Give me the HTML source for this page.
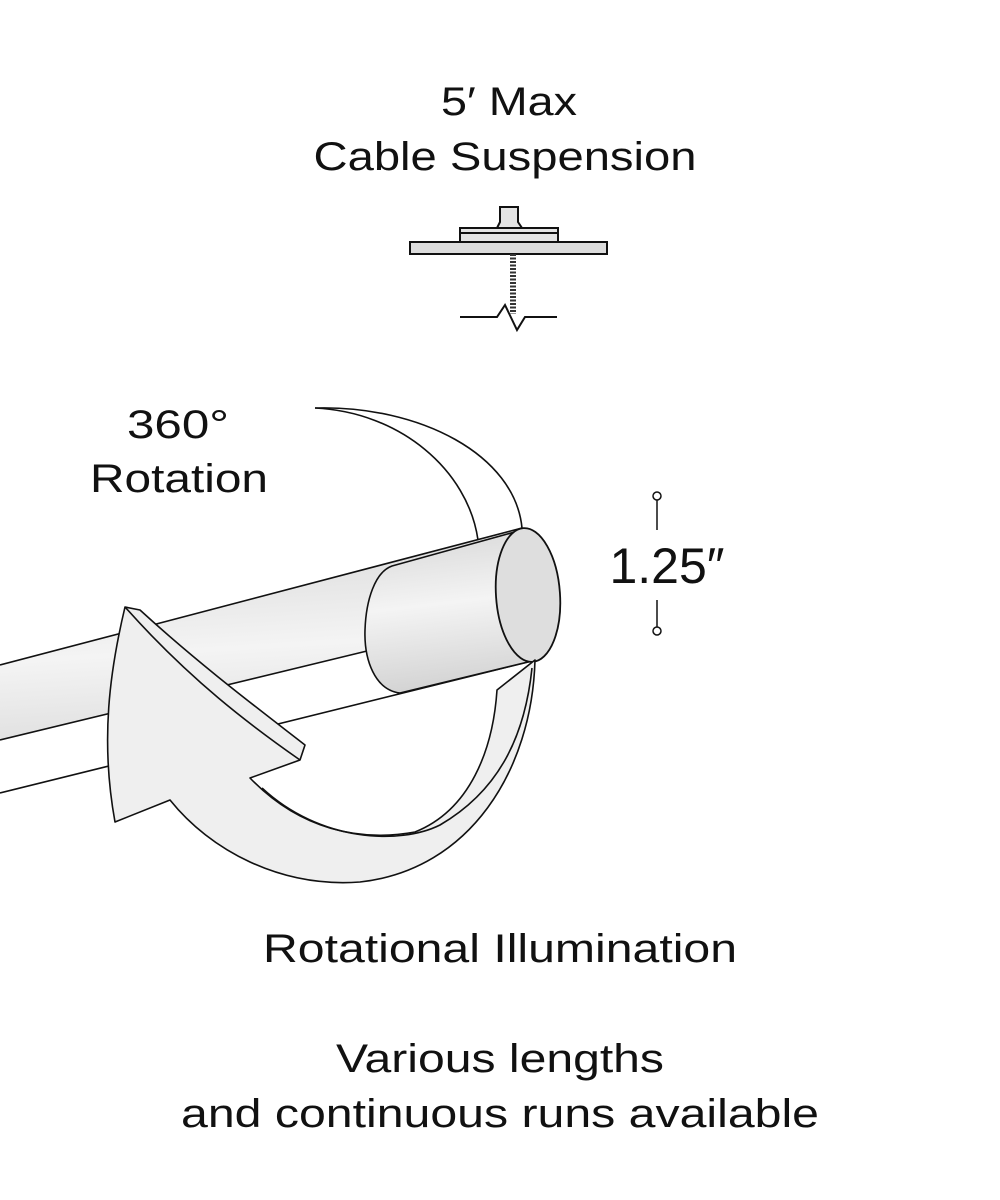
<!DOCTYPE html>
<html><head><meta charset="utf-8"><style>
html,body{margin:0;padding:0;background:#fff;}
svg{display:block;}
text{font-family:"Liberation Sans",sans-serif;fill:#111;}
</style></head><body>
<svg width="1000" height="1200" viewBox="0 0 1000 1200" xmlns="http://www.w3.org/2000/svg">
<defs>
<linearGradient id="rod" x1="0" y1="0" x2="0.12" y2="1">
<stop offset="0" stop-color="#d6d6d6"/><stop offset="0.5" stop-color="#f4f4f4"/><stop offset="1" stop-color="#d4d4d4"/>
</linearGradient>
</defs>
<g font-size="40" text-anchor="middle" lengthAdjust="spacingAndGlyphs">
<text x="509" y="115" textLength="136" lengthAdjust="spacingAndGlyphs">5′ Max</text>
<text x="505" y="170" textLength="383" lengthAdjust="spacingAndGlyphs">Cable Suspension</text>
<text x="178" y="438" textLength="102" lengthAdjust="spacingAndGlyphs">360°</text>
<text x="179" y="492" textLength="178" lengthAdjust="spacingAndGlyphs">Rotation</text>
<text x="500" y="962" textLength="474" lengthAdjust="spacingAndGlyphs">Rotational Illumination</text>
<text x="500" y="1072" textLength="328" lengthAdjust="spacingAndGlyphs">Various lengths</text>
<text x="500" y="1127" textLength="638" lengthAdjust="spacingAndGlyphs">and continuous runs available</text>
</g>
<text x="667" y="583" font-size="50" text-anchor="middle">1.25″</text>
<g stroke="#111" stroke-width="1.5" fill="#fff">
<line x1="657" y1="500" x2="657" y2="530"/><line x1="657" y1="600" x2="657" y2="627"/>
<circle cx="657" cy="496" r="4"/><circle cx="657" cy="631" r="4"/>
</g>
<g stroke="#111" stroke-width="2" fill="#ddd">
<path d="M500,207 H518 V222 L522,228 H497 L500,222 Z" fill="#e4e4e4"/>
<rect x="460" y="228" width="98" height="14" fill="#e4e4e4"/>
<line x1="460" y1="233" x2="558" y2="233"/>
<rect x="410" y="242" width="197" height="12" fill="#dcdcdc"/>
</g>
<line x1="513" y1="254" x2="513" y2="314" stroke="#333" stroke-width="6" stroke-dasharray="2 1.5"/>
<polyline points="460,317 497,317 505,305 517,330 525,317 557,317" fill="none" stroke="#111" stroke-width="2"/>
<g fill="none" stroke="#111" stroke-width="1.6">
<path d="M315,408 C420,405 515,455 522,528"/>
<path d="M315,408 C400,412 468,470 478,540"/>
</g>
<path d="M0,665 L522,528 L530,660 L0,793 Z" fill="url(#rod)"/>
<path d="M0,740 L367,651 L400,693 L0,793 Z" fill="#fff"/>
<g stroke="#111" stroke-width="1.6" fill="none">
<line x1="0" y1="665" x2="522" y2="528"/>
<line x1="0" y1="740" x2="367" y2="651"/>
<line x1="0" y1="793" x2="532" y2="661"/>
</g>
<path d="M392,566 L522,530 L532,661 L400,693 C375,690 364,660 365,630 C366,600 375,572 392,566 Z" fill="url(#rod)" stroke="#111" stroke-width="1.6"/>
<ellipse cx="528" cy="595" rx="32" ry="67" fill="#dedede" stroke="#111" stroke-width="1.8" transform="rotate(-4 528 595)"/>
<path d="M535,660 C532,770 470,870 360,882 C280,888 210,850 170,800 L115,822 C100,740 110,670 125,607 L140,610 C200,665 260,710 305,745 L300,760 L250,778 C300,830 360,842 415,832 C470,810 493,750 497,690 Z" fill="#efefef" stroke="#111" stroke-width="1.6" stroke-linejoin="round"/>
<g fill="none" stroke="#111" stroke-width="1.6">
<path d="M262,788 C320,842 400,845 440,825 C500,790 525,735 532,668"/>
<path d="M125,607 C190,680 250,725 300,760"/>
</g>
</svg>
</body></html>
